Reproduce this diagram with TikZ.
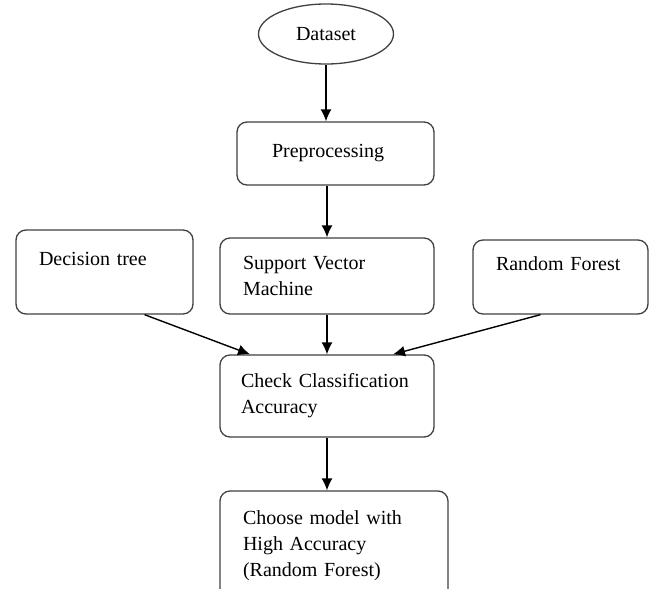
\documentclass[tikz,border=0pt]{standalone}
\usepackage{fontspec}
\setmainfont{Liberation Serif}
\usetikzlibrary{arrows.meta,positioning,shapes.geometric}

\begin{document}
\begin{tikzpicture}[
    x=1pt, y=-1pt,
    >={Latex[length=12pt,width=11pt]},
    font=\fontsize{20}{26}\selectfont,
    block/.style={
		rectangle,
		rounded corners=10pt,
		draw=black!75,
		line width=1.3pt,
		align=left,
		inner xsep=23pt,
		inner ysep=0pt,
		fill=white
	},
	data/.style={
		ellipse,
		draw=black!75,
		line width=1.3pt,
		minimum width=135pt,
		minimum height=60pt,
		inner sep=0pt
	},
	link/.style={
		->,
		line width=1.4pt
	}
  ]
  \useasboundingbox (0,0) rectangle (649,589);
    % We start by placing the blocks

  \node [data] (dataset) at (326,34) {Dataset};

  \node [block, text width=127pt, inner xsep=35pt, minimum height=63pt] (prep) at (335.5,153.5)
 {Preprocessing};

  \node [block, text width=168pt, minimum height=76pt] (svm) at (327,276)
 {Support Vector\\ Machine};

  \node [block, text width=131pt, minimum height=84pt] (tree) at (104.5,272)
 {Decision tree\\ ~};

  \node [block, text width=129pt, minimum height=74pt] (forest) at (560.5,277)
 {Random Forest\\ ~};

  \node [block, text width=172pt, inner xsep=21pt, minimum height=82pt] (check) at (327,396)
 {Check Classification\\ Accuracy};

  \node [block, text width=182pt, minimum height=110pt] (choose) at (334,546)
 {Choose model with\\ High Accuracy\\ (Random Forest)};

 % then the arrows
 \draw [link] (dataset) -- (dataset |- prep.north);
 \draw [link] (prep.south -| svm.north) -- (svm.north);
 \draw [link] ([xshift=40pt]tree.south) -- ([xshift=-77pt]check.north);
 \draw [link] (svm) -- (check);
 \draw [link] ([xshift=-20pt]forest.south) -- ([xshift=66pt]check.north);
 \draw [link] (check) -- (check |- choose.north);

\end{tikzpicture}
\end{document}
